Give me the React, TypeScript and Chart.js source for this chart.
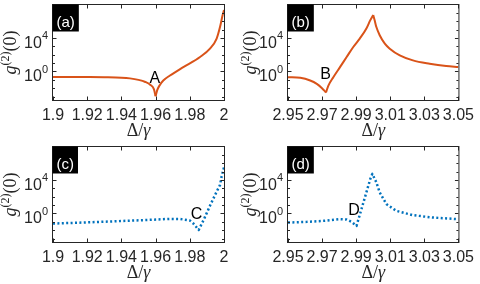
import React, { useEffect, useRef } from "react";
import { Chart, registerables } from "chart.js";

Chart.register(...registerables);

// ---------- data ----------
const detuningA = [1.9, 1.91, 1.92, 1.93, 1.94, 1.945, 1.95, 1.954, 1.957, 1.959, 1.96, 1.961, 1.9625, 1.9645, 1.9684, 1.9762, 1.986, 1.9918, 1.9957, 1.9977, 1.9992, 2.0];
const g2A = [0.219, 0.219, 0.214, 0.204, 0.182, 0.151, 0.1, 0.0562, 0.0251, 0.00794, 0.00112, 0.00631, 0.0251, 0.0832, 0.331, 3.31, 52.5, 525, 8318, 209000, 5250000, 20900000];

const detuningB = [2.95, 2.9572, 2.963, 2.9669, 2.9698, 2.9723, 2.9737, 2.9766, 2.9805, 2.9844, 2.9883, 2.9921, 2.996, 2.9983, 3.0, 3.0008, 3.0018, 3.0038, 3.0068, 3.0097, 3.0156, 3.0233, 3.0331, 3.0428, 3.05];
const g2B = [0.209, 0.174, 0.0832, 0.0331, 0.011, 0.00316, 0.0209, 0.209, 3.31, 52.5, 832, 8318, 132000, 1320000, 5250000, 1320000, 209000, 20900, 2090, 525, 83.2, 20.9, 8.32, 4.37, 3.31];

const detuningC = [1.9, 1.9179, 1.9374, 1.9568, 1.9685, 1.9743, 1.98, 1.9821, 1.9852, 1.9883, 1.9918, 1.9957, 1.9977, 1.9986, 2.0];
const g2C = [0.0631, 0.0832, 0.12, 0.174, 0.229, 0.219, 0.145, 0.0631, 0.011, 0.209, 8.32, 398, 2512, 25100, 316000];

const detuningD = [2.95, 2.9611, 2.9708, 2.9805, 2.9844, 2.9873, 2.9902, 2.9931, 2.996, 2.9983, 2.9995, 3.0018, 3.0038, 3.0077, 3.0135, 3.0232, 3.0349, 3.05];
const g2D = [0.0832, 0.1, 0.132, 0.209, 0.191, 0.1, 0.0331, 3.31, 331, 13200, 52500, 5250, 331, 13.2, 2.09, 0.631, 0.331, 0.209];

const xTicksLeft = [1.9, 1.92, 1.94, 1.96, 1.98, 2.0];
const xTickLabelsLeft = ["1.9", "1.92", "1.94", "1.96", "1.98", "2"];
const xTicksRight = [2.95, 2.97, 2.99, 3.01, 3.03, 3.05];
const xTickLabelsRight = ["2.95", "2.97", "2.99", "3.01", "3.03", "3.05"];

const yTickValues = [1, 10000];
const yTickBase = "10";
const yTickExponents = ["0", "4"];
const yMinorTickValues = [1e-3, 1e-2, 1e-1, 1, 1e1, 1e2, 1e3, 1e4, 1e5, 1e6, 1e7];
const yMin = 4e-4;
const yMax = 8.3e7;

const panelTags = ["(a)", "(b)", "(c)", "(d)"];
const pointLetters = ["A", "B", "C", "D"];
const pointLetterX = [1.9596, 2.9721, 1.9839, 2.9887];
const pointLetterY = [0.22, 0.66, 1.0, 3.0];

// ---------- styling ----------
const SANS = "'Liberation Sans', Arial, Helvetica, sans-serif";
const SERIF = "'Liberation Serif', 'Times New Roman', serif";
const AXIS = "#262626";
const ORANGE = "#D95319";
const BLUE = "#0072BD";

type Panel = {
  xs: number[];
  ys: number[];
  color: string;
  dash: number[];
  width: number;
  smooth: boolean;
  xMin: number;
  xMax: number;
  xTicks: number[];
  xTickLabels: string[];
  padLeft: number;
  padRight: number;
  tag: string;
  letter: string;
  letterX: number;
  letterY: number;
};

const panels: Panel[] = [
  { xs: detuningA, ys: g2A, color: ORANGE, dash: [], width: 2, smooth: true, xMin: 1.9, xMax: 2.0, xTicks: xTicksLeft, xTickLabels: xTickLabelsLeft, padLeft: 53, padRight: 16, tag: panelTags[0], letter: pointLetters[0], letterX: pointLetterX[0], letterY: pointLetterY[0] },
  { xs: detuningB, ys: g2B, color: ORANGE, dash: [], width: 2, smooth: true, xMin: 2.95, xMax: 3.05, xTicks: xTicksRight, xTickLabels: xTickLabelsRight, padLeft: 48, padRight: 21, tag: panelTags[1], letter: pointLetters[1], letterX: pointLetterX[1], letterY: pointLetterY[1] },
  { xs: detuningC, ys: g2C, color: BLUE, dash: [2, 2.4], width: 2.5, smooth: false, xMin: 1.9, xMax: 2.0, xTicks: xTicksLeft, xTickLabels: xTickLabelsLeft, padLeft: 53, padRight: 16, tag: panelTags[2], letter: pointLetters[2], letterX: pointLetterX[2], letterY: pointLetterY[2] },
  { xs: detuningD, ys: g2D, color: BLUE, dash: [2, 2.4], width: 2.5, smooth: false, xMin: 2.95, xMax: 3.05, xTicks: xTicksRight, xTickLabels: xTickLabelsRight, padLeft: 48, padRight: 21, tag: panelTags[3], letter: pointLetters[3], letterX: pointLetterX[3], letterY: pointLetterY[3] },
];

// split a series at its cusps (local extrema) so each piece can be smoothed monotonically
function segmentsAtExtrema(ys: number[]): [number, number][] {
  const segs: [number, number][] = [];
  let start = 0;
  for (let i = 1; i < ys.length - 1; i++) {
    if ((ys[i] - ys[i - 1]) * (ys[i + 1] - ys[i]) < 0) {
      segs.push([start, i]);
      start = i;
    }
  }
  segs.push([start, ys.length - 1]);
  return segs;
}

function drawParts(ctx: CanvasRenderingContext2D, parts: { t: string; font: string; dy: number }[], cx: number, baseY: number) {
  let total = 0;
  const widths = parts.map((p) => {
    ctx.font = p.font;
    const w = ctx.measureText(p.t).width;
    total += w;
    return w;
  });
  let x = cx - total / 2;
  parts.forEach((p, i) => {
    ctx.font = p.font;
    ctx.fillText(p.t, x, baseY + p.dy);
    x += widths[i];
  });
}

function makeDecor(p: Panel) {
  return {
    id: "decor",
    afterDatasetsDraw(chart: any) {
      const ctx: CanvasRenderingContext2D = chart.ctx;
      const { left, right, top, bottom } = chart.chartArea;
      const xs = chart.scales.x;
      const ys = chart.scales.y;
      ctx.save();
      // frame
      ctx.strokeStyle = AXIS;
      ctx.lineWidth = 1;
      ctx.strokeRect(left - 0.5, top - 0.5, right - left + 1, bottom - top + 1);
      // ticks
      ctx.beginPath();
      for (const v of p.xTicks) {
        const px = Math.round(xs.getPixelForValue(v)) + 0.5;
        ctx.moveTo(px, bottom);
        ctx.lineTo(px, bottom - 3.5);
        ctx.moveTo(px, top);
        ctx.lineTo(px, top + 3.5);
      }
      for (const v of yMinorTickValues) {
        const py = Math.round(ys.getPixelForValue(v)) + 0.5;
        const len = yTickValues.includes(v) ? 3.5 : 2;
        ctx.moveTo(left, py);
        ctx.lineTo(left + len, py);
        ctx.moveTo(right, py);
        ctx.lineTo(right - len, py);
      }
      ctx.stroke();

      // y tick labels 10^n
      ctx.fillStyle = AXIS;
      ctx.textAlign = "left";
      ctx.textBaseline = "alphabetic";
      yTickValues.forEach((v, i) => {
        const py = ys.getPixelForValue(v);
        const sup = yTickExponents[i];
        ctx.font = `16px ${SANS}`;
        const wBase = ctx.measureText(yTickBase).width;
        ctx.font = `11px ${SANS}`;
        const wSup = ctx.measureText(sup).width;
        const xr = left - 5;
        ctx.font = `16px ${SANS}`;
        ctx.fillText(yTickBase, xr - wSup - wBase, py + 10);
        ctx.font = `11px ${SANS}`;
        ctx.fillText(sup, xr - wSup, py + 1.5);
      });

      // y title g^(2)(0)
      ctx.save();
      ctx.translate(16, (top + bottom) / 2);
      ctx.rotate(-Math.PI / 2);
      drawParts(
        ctx,
        [
          { t: "g", font: `italic 18px ${SERIF}`, dy: 0 },
          { t: "(2)", font: `12px ${SERIF}`, dy: -7 },
          { t: "(0)", font: `18px ${SERIF}`, dy: 0 },
        ],
        0,
        0
      );
      ctx.restore();

      // x title Δ/γ
      drawParts(
        ctx,
        [
          { t: "Δ", font: `18px ${SERIF}`, dy: 0 },
          { t: "/", font: `18px ${SERIF}`, dy: 0 },
          { t: "γ", font: `italic 18px ${SERIF}`, dy: 0 },
        ],
        (left + right) / 2,
        136
      );

      // panel tag box
      ctx.font = `15px ${SANS}`;
      const tw = ctx.measureText(p.tag).width;
      ctx.fillStyle = "#000";
      ctx.fillRect(left - 0.5, top - 0.5, tw + 8, 27);
      ctx.fillStyle = "#fff";
      ctx.fillText(p.tag, left + 3.5, top + 22);

      // point letter
      ctx.fillStyle = "#000";
      ctx.font = `16px ${SANS}`;
      ctx.textAlign = "center";
      ctx.fillText(p.letter, xs.getPixelForValue(p.letterX), ys.getPixelForValue(p.letterY) + 5.7);
      ctx.restore();
    },
  };
}

function PanelChart({ p }: { p: Panel }) {
  const ref = useRef<HTMLCanvasElement>(null);
  useEffect(() => {
    const canvas = ref.current!;
    const segs: [number, number][] = p.smooth ? segmentsAtExtrema(p.ys) : [[0, p.ys.length - 1]];
    const datasets = segs.map(([a, b]) => ({
      data: p.xs.slice(a, b + 1).map((x, i) => ({ x, y: p.ys[a + i] })),
      borderColor: p.color,
      borderWidth: p.width,
      borderDash: p.dash,
      borderCapStyle: "butt",
      borderJoinStyle: "round",
      pointRadius: 0,
      tension: p.smooth ? 0.4 : 0,
      cubicInterpolationMode: p.smooth ? "monotone" : "default",
      fill: false,
    }));
    const chart = new Chart(canvas, {
      type: "line",
      data: { datasets },
      options: {
        responsive: false,
        animation: false,
        devicePixelRatio: 1,
        events: [],
        layout: { padding: { left: p.padLeft, right: p.padRight, top: 5, bottom: 0 } },
        plugins: { legend: { display: false }, tooltip: { enabled: false } },
        scales: {
          x: {
            type: "linear",
            min: p.xMin,
            max: p.xMax,
            grid: { display: false, drawTicks: false },
            border: { display: false },
            afterBuildTicks: (scale: any) => {
              scale.ticks = p.xTicks.map((value) => ({ value }));
            },
            afterFit: (scale: any) => {
              scale.height = 42;
            },
            ticks: {
              autoSkip: false,
              maxRotation: 0,
              padding: 6,
              color: AXIS,
              font: { family: SANS, size: 16 },
              callback: (_v: any, i: number) => p.xTickLabels[i],
            },
          },
          y: {
            type: "logarithmic",
            min: yMin,
            max: yMax,
            display: false,
          },
        },
      },
      plugins: [makeDecor(p)],
    } as any);
    return () => chart.destroy();
  }, [p]);
  return <canvas ref={ref} width={240} height={142} style={{ display: "block", width: 240, height: 142 }} />;
}

export default function App() {
  return (
    <div
      style={{
        position: "fixed",
        left: 0,
        top: 0,
        width: 480,
        height: 284,
        background: "#fff",
        display: "grid",
        gridTemplateColumns: "240px 240px",
        gridTemplateRows: "142px 142px",
      }}
    >
      {panels.map((p, i) => (
        <PanelChart key={i} p={p} />
      ))}
    </div>
  );
}
